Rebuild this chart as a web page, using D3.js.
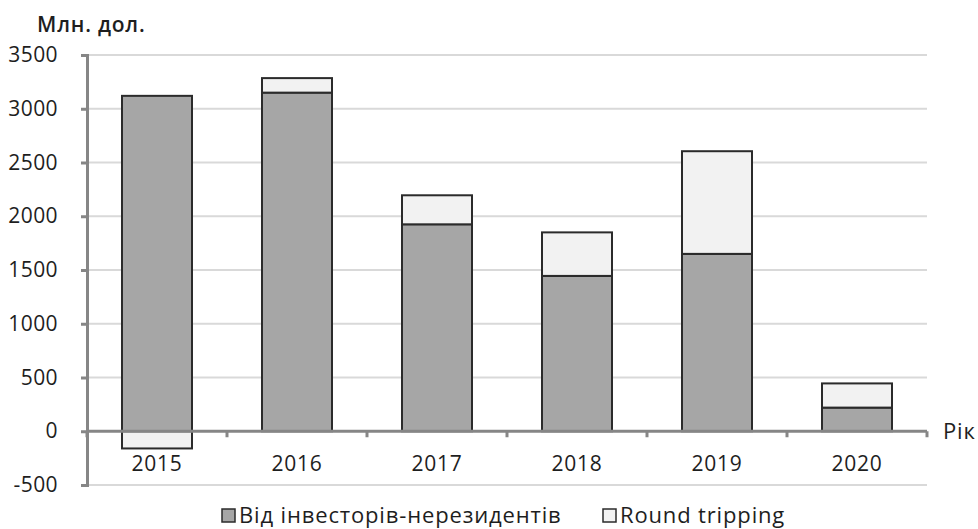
<!DOCTYPE html>
<html>
<head>
<meta charset="utf-8">
<script src="https://cdn.jsdelivr.net/npm/d3@7"></script>
<style>
  body { margin: 0; background: #fff; }
  text { font-family: "Open Sans", sans-serif; fill: #1e1e1e; }
</style>
</head>
<body>
<script>
var years = ["2015", "2016", "2017", "2018", "2019", "2020"];
var nonResident = [3120, 3150, 1925, 1445, 1650, 220];
var roundTripping = [-160, 135, 270, 405, 955, 225];
var yTicks = [-500, 0, 500, 1000, 1500, 2000, 2500, 3000, 3500];
var seriesNames = ["Від інвесторів-нерезидентів", "Round tripping"];

var width = 978, height = 529;

var rows = years.map((y, i) => ({ year: y, a: nonResident[i], b: roundTripping[i] }));

var stack = d3.stack()
    .keys(["a", "b"])
    .offset(d3.stackOffsetDiverging);
var stacked = stack(rows);

var x = d3.scaleBand()
    .domain(years)
    .range([87, 927])
    .paddingInner(0.5)
    .paddingOuter(0.25);

var y = d3.scaleLinear()
    .domain([-500, 3500])
    .range([485, 55]);

var color = d3.scaleOrdinal().domain(["a", "b"]).range(["#a6a6a6", "#f2f2f2"]);

var svg = d3.select("body").append("svg")
    .attr("width", width)
    .attr("height", height);

// gridlines
svg.append("g")
  .selectAll("line")
  .data(yTicks.filter(d => d !== 0))
  .enter().append("line")
    .attr("x1", 87).attr("x2", 927)
    .attr("y1", d => y(d)).attr("y2", d => y(d))
    .attr("stroke", "#d9d9d9")
    .attr("stroke-width", 2);

// bars
svg.append("g")
  .selectAll("g")
  .data(stacked)
  .enter().append("g")
    .attr("fill", d => color(d.key))
  .selectAll("rect")
  .data(d => d)
  .enter().append("rect")
    .attr("x", d => x(d.data.year))
    .attr("width", x.bandwidth())
    .attr("y", d => y(Math.max(d[0], d[1])))
    .attr("height", d => Math.abs(y(d[0]) - y(d[1])))
    .attr("stroke", "#2b2b2b")
    .attr("stroke-width", 2);

// y axis
var yAxis = svg.append("g")
    .attr("transform", "translate(87,0)")
    .call(d3.axisLeft(y).tickValues(yTicks).tickSize(6).tickPadding(23).tickFormat(d => String(d)));
yAxis.select(".domain").attr("stroke", "#868686").attr("stroke-width", 3);
yAxis.selectAll(".tick line").attr("stroke", "#868686").attr("stroke-width", 3);
yAxis.selectAll("text")
    .style("font-size", "21px")
    .style("letter-spacing", "0.4px")
    .attr("fill", "#1e1e1e");

// x axis at zero
var bounds = [87].concat(years.map(d => x(d) + x.step() * 0.75));
var xg = svg.append("g");
xg.append("line")
    .attr("x1", 87).attr("x2", 927)
    .attr("y1", y(0)).attr("y2", y(0))
    .attr("stroke", "#868686").attr("stroke-width", 3);
xg.selectAll("line.tk")
  .data(bounds)
  .enter().append("line")
    .attr("class", "tk")
    .attr("x1", d => d).attr("x2", d => d)
    .attr("y1", y(0)).attr("y2", y(0) + 6)
    .attr("stroke", "#868686").attr("stroke-width", 3);
xg.selectAll("text")
  .data(years)
  .enter().append("text")
    .attr("x", d => x(d) + x.bandwidth() / 2)
    .attr("y", 471)
    .attr("text-anchor", "middle")
    .style("font-size", "21px")
    .style("letter-spacing", "0.8px")
    .text(d => d);

// axis titles
svg.append("text")
    .attr("x", 37).attr("y", 32)
    .style("font-size", "21px")
    .style("font-weight", 600)
    .style("letter-spacing", "0.8px")
    .text("Млн. дол.");
svg.append("text")
    .attr("x", 943).attr("y", 439)
    .style("font-size", "22px")
    .style("letter-spacing", "0.8px")
    .text("Рік");

// legend
var legendX = [222, 603];
var legend = svg.append("g")
  .selectAll("g")
  .data(["a", "b"])
  .enter().append("g")
    .attr("transform", (d, i) => "translate(" + legendX[i] + ",509)");
legend.append("rect")
    .attr("width", 13).attr("height", 13)
    .attr("fill", d => color(d))
    .attr("stroke", "#2b2b2b")
    .attr("stroke-width", 1.5);
legend.append("text")
    .attr("x", 17).attr("y", 14)
    .style("font-size", "22px")
    .style("letter-spacing", "0.85px")
    .text((d, i) => seriesNames[i]);
</script>
</body>
</html>
